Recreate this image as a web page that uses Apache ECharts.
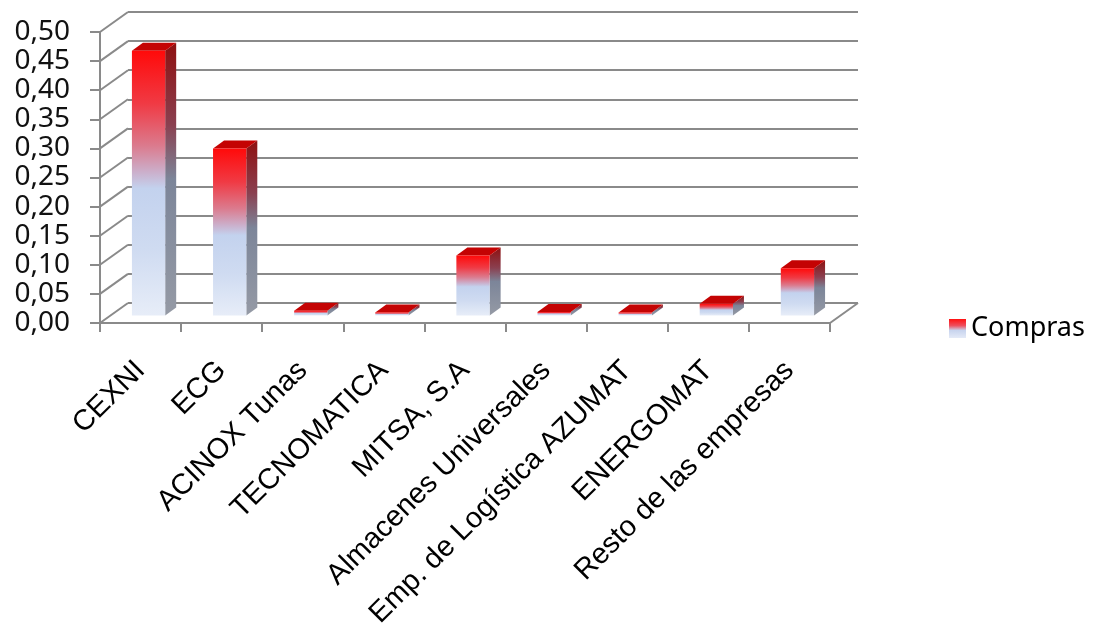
<!DOCTYPE html>
<html>
<head>
<meta charset="utf-8">
<script src="https://cdn.jsdelivr.net/npm/echarts@6/dist/echarts.min.js"></script>
<style>
  html, body { margin: 0; padding: 0; background: #fff; }
  #main { width: 1094px; height: 631px; }
</style>
</head>
<body>
<div id="main"></div>
<script>
// datos del grafico
var empresas = ['CEXNI', 'ECG', 'ACINOX Tunas', 'TECNOMATICA', 'MITSA, S.A',
    'Almacenes Universales', 'Emp. de Logística AZUMAT', 'ENERGOMAT', 'Resto de las empresas'];
var compras = [0.455, 0.287, 0.008, 0.005, 0.103, 0.006, 0.005, 0.02, 0.081];
var yTicks = [0, 0.05, 0.10, 0.15, 0.20, 0.25, 0.30, 0.35, 0.40, 0.45, 0.50];

// profundidad de la pared (desplazamiento de la pared del fondo)
var DX = 28, DY = -20;
var GRID_COLOR = '#8a8a8a';

var frontGrad = function () {
    return new echarts.graphic.LinearGradient(0, 0, 0, 1, [
        {offset: 0, color: '#ff0a0a'},
        {offset: 0.2, color: '#f03a44'},
        {offset: 0.36, color: '#db7b8e'},
        {offset: 0.46, color: '#cbb0cc'},
        {offset: 0.52, color: '#c3d2ee'},
        {offset: 0.75, color: '#cfdbf1'},
        {offset: 1, color: '#e7edf8'}
    ]);
};
var sideGrad = function () {
    return new echarts.graphic.LinearGradient(0, 0, 0, 1, [
        {offset: 0, color: '#8e1010'},
        {offset: 0.3, color: '#8a4050'},
        {offset: 0.5, color: '#7c8599'},
        {offset: 1, color: '#959aa5'}
    ]);
};

var myChart = echarts.init(document.getElementById('main'));

var option = {
    backgroundColor: '#ffffff',
    animation: false,
    legend: {
        data: ['Compras'],
        left: 944,
        top: 310,
        icon: 'rect',
        itemWidth: 17,
        itemHeight: 19,
        itemGap: 8,
        textStyle: {fontSize: 27, color: '#000', fontFamily: 'Noto Sans'}
    },
    grid: [
        {left: 100, right: 264, top: 32, bottom: 308},   // plano frontal
        {left: 128, right: 236, top: 12, bottom: 328}    // pared del fondo
    ],
    xAxis: [
        {
            type: 'category', gridIndex: 0, data: empresas,
            axisLine: {lineStyle: {color: GRID_COLOR, width: 2}},
            axisTick: {show: true, length: 9, lineStyle: {color: GRID_COLOR, width: 2}},
            axisLabel: {
                interval: 0, rotate: 45, margin: 43,
                fontSize: 29, color: '#000', fontFamily: 'Liberation Sans'
            }
        },
        {type: 'category', gridIndex: 1, data: empresas, show: false}
    ],
    yAxis: [
        {
            type: 'value', gridIndex: 0, min: 0, max: 0.5, interval: 0.05,
            axisLine: {show: true, lineStyle: {color: GRID_COLOR, width: 2}},
            axisTick: {show: true, length: 10, lineStyle: {color: GRID_COLOR, width: 2}},
            splitLine: {show: false},
            axisLabel: {
                margin: 30, fontSize: 28, color: '#111', fontFamily: 'Noto Sans',
                formatter: function (v) { return v.toFixed(2).replace('.', ','); }
            }
        },
        {
            type: 'value', gridIndex: 1, min: 0, max: 0.5, interval: 0.05,
            axisLine: {show: false}, axisTick: {show: false}, axisLabel: {show: false},
            splitLine: {show: true, lineStyle: {color: GRID_COLOR, width: 2}}
        }
    ],
    series: [
        {
            // diagonales de la pared lateral y borde derecho del piso
            name: 'pared',
            type: 'custom',
            xAxisIndex: 0, yAxisIndex: 0,
            silent: true,
            clip: false,
            data: yTicks.map(function (t) { return [0, t]; }),
            renderItem: function (params, api) {
                var x0 = params.coordSys.x;
                var y = api.coord([0, api.value(1)])[1];
                var children = [{
                    type: 'line',
                    shape: {x1: x0, y1: y, x2: x0 + DX, y2: y + DY},
                    style: {stroke: GRID_COLOR, lineWidth: 2}
                }];
                if (api.value(1) === 0) {
                    var xr = params.coordSys.x + params.coordSys.width;
                    children.push({
                        type: 'line',
                        shape: {x1: xr, y1: y, x2: xr + DX, y2: y + DY},
                        style: {stroke: GRID_COLOR, lineWidth: 2}
                    });
                }
                return {type: 'group', children: children};
            }
        },
        {
            name: 'Compras',
            type: 'custom',
            xAxisIndex: 0, yAxisIndex: 0,
            clip: false,
            itemStyle: {
                color: new echarts.graphic.LinearGradient(0, 0, 0, 1, [
                    {offset: 0, color: '#ff1010'},
                    {offset: 0.35, color: '#ee5060'},
                    {offset: 0.6, color: '#c8d4ee'},
                    {offset: 1, color: '#e4eaf7'}
                ])
            },
            data: compras.map(function (v, i) { return [i, v]; }),
            renderItem: function (params, api) {
                var band = api.size([1, 0])[0];
                var top = api.coord([api.value(0), api.value(1)]);
                var base = api.coord([api.value(0), 0]);
                var w = band * 0.41;
                // cara frontal algo atras del plano frontal
                var fx = 10, fy = -7.5, bx = 11, by = -8;
                var xl = top[0] - w / 2 + fx - 2, xr = xl + w;
                var yt = top[1] + fy, yb = base[1] + fy;
                return {
                    type: 'group',
                    children: [
                        {
                            type: 'polygon',
                            shape: {points: [[xr, yt], [xr + bx, yt + by], [xr + bx, yb + by], [xr, yb]]},
                            style: {fill: sideGrad()}
                        },
                        {
                            type: 'polygon',
                            shape: {points: [[xl, yt], [xl + bx, yt + by], [xr + bx, yt + by], [xr, yt]]},
                            style: {fill: '#c40303'}
                        },
                        {
                            type: 'rect',
                            shape: {x: xl, y: yt, width: w, height: Math.max(yb - yt, 0.5)},
                            style: {fill: frontGrad()}
                        }
                    ]
                };
            }
        }
    ]
};

myChart.setOption(option);
</script>
</body>
</html>
